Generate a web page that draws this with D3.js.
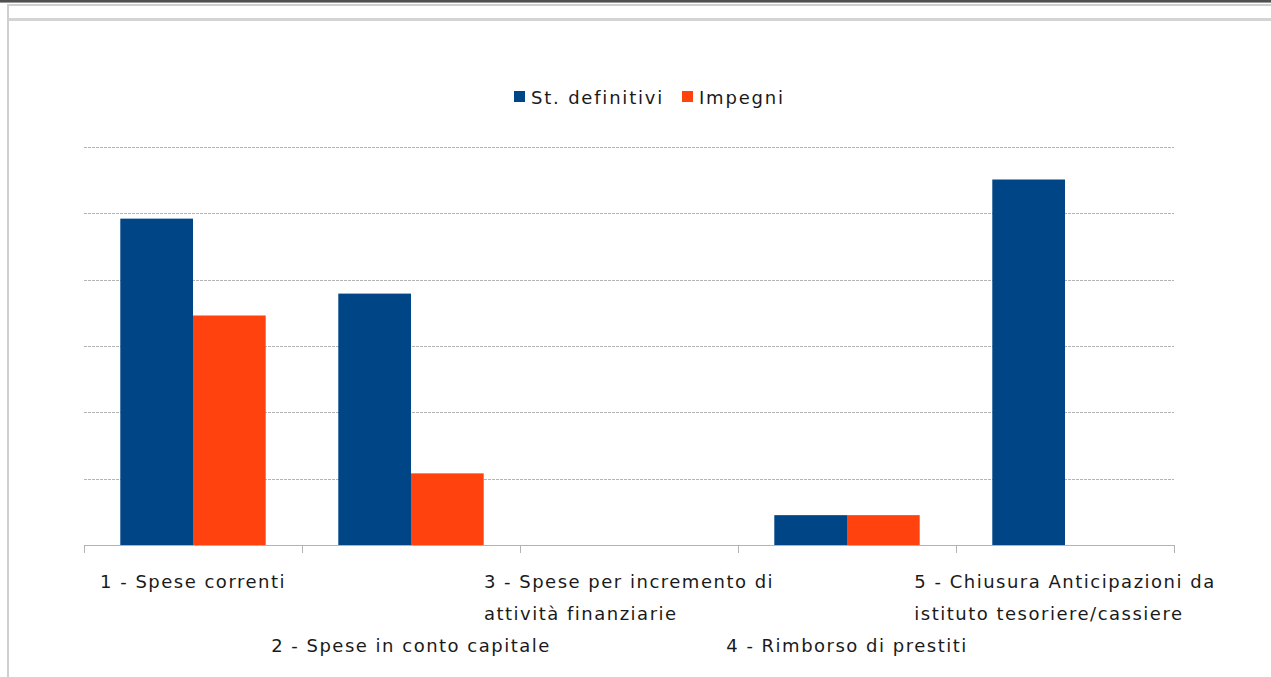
<!DOCTYPE html>
<html>
<head>
<meta charset="utf-8">
<script src="https://cdn.jsdelivr.net/npm/d3@7"></script>
<style>
	body { margin: 0; background: #fff; }
	svg { display: block; font-family: "DejaVu Sans", sans-serif; }
</style>
</head>
<body>
<div id="chart"></div>
<script>
'use strict';

// categories (label lines as shown under the axis)
const categories = [
	["1 - Spese correnti"],
	["2 - Spese in conto capitale"],
	["3 - Spese per incremento di", "attività finanziarie"],
	["4 - Rimborso di prestiti"],
	["5 - Chiusura Anticipazioni da", "istituto tesoriere/cassiere"]
];
const seriesNames = ["St. definitivi", "Impegni"];
const stDefinitivi = [4.92, 3.79, 0, 0.45, 5.51];
const impegni = [3.46, 1.08, 0, 0.45, 0];
const colors = ["#004586", "#ff420e"];

const width = 1271, height = 677;
const plot = { left: 84, right: 1174, top: 147, bottom: 545 };

const svg = d3.select("#chart").append("svg")
	.attr("width", width)
	.attr("height", height);

// window frame lines
svg.append("rect").attr("x", 0).attr("y", 0).attr("width", width).attr("height", 2).attr("fill", "#505050");
svg.append("rect").attr("x", 0).attr("y", 2).attr("width", width).attr("height", 1).attr("fill", "#9a9a9a");
svg.append("rect").attr("x", 7).attr("y", 4).attr("width", width).attr("height", 2).attr("fill", "#cfcfcf");
svg.append("rect").attr("x", 7).attr("y", 18).attr("width", width).attr("height", 3).attr("fill", "#d4d4d4");
svg.append("rect").attr("x", 7).attr("y", 4).attr("width", 2).attr("height", height).attr("fill", "#cfcfcf");

const idx = d3.range(categories.length);

const xBand = d3.scaleBand()
	.domain(idx)
	.range([plot.left, plot.right])
	.paddingInner(0.333)
	.paddingOuter(0.1665);

const xSub = d3.scaleBand()
	.domain([0, 1])
	.range([0, xBand.bandwidth()]);

const xEdge = d3.scaleLinear()
	.domain([0, categories.length])
	.range([plot.left, plot.right]);

const yScale = d3.scaleLinear()
	.domain([0, 6])
	.range([plot.bottom, plot.top]);

// gridlines
const grid = svg.append("g")
	.attr("transform", `translate(${plot.left},0)`)
	.call(d3.axisLeft(yScale)
		.tickValues([1, 2, 3, 4, 5, 6])
		.tickSize(-(plot.right - plot.left))
		.tickFormat(""));
grid.select(".domain").remove();
grid.selectAll(".tick line")
	.attr("stroke", "#b3b3b3")
	.attr("stroke-dasharray", "3,1")
	.attr("shape-rendering", "crispEdges");

// bars
const series = [stDefinitivi, impegni];
series.forEach((vals, s) => {
	svg.append("g").selectAll("rect")
		.data(vals)
		.join("rect")
			.attr("x", (d, i) => xBand(i) + xSub(s))
			.attr("y", d => yScale(d))
			.attr("width", xSub.bandwidth())
			.attr("height", d => yScale(0) - yScale(d))
			.attr("fill", colors[s]);
});

// x axis with ticks at category boundaries
const xAxis = svg.append("g")
	.attr("transform", `translate(0,${plot.bottom})`)
	.call(d3.axisBottom(xEdge)
		.tickValues(d3.range(categories.length + 1))
		.tickSize(8)
		.tickSizeOuter(0)
		.tickFormat(""));
xAxis.selectAll("line, path")
	.attr("stroke", "#b3b3b3")
	.attr("shape-rendering", "crispEdges");

// category labels, staggered on two rows
const labelRowY = [588, 652];
const lineGap = 32;
const labels = svg.append("g")
	.attr("font-size", 18)
	.attr("letter-spacing", 1.5)
	.attr("fill", "#1a1a1a");
categories.forEach((lines, i) => {
	const cx = xEdge(i + 0.5);
	const t = labels.append("text")
		.attr("text-anchor", "start");
	lines.forEach((ln, k) => {
		t.append("tspan")
			.attr("x", 0)
			.attr("y", labelRowY[i % 2] + k * lineGap)
			.text(ln);
	});
	// center the left-aligned block on the category
	const w = t.node().getBBox().width;
	t.selectAll("tspan").attr("x", cx - w / 2);
});

// legend
const legend = svg.append("g")
	.attr("font-size", 18)
	.attr("letter-spacing", 1.8)
	.attr("fill", "#1a1a1a");
const legendX = [514, 682];
seriesNames.forEach((name, s) => {
	legend.append("rect")
		.attr("x", legendX[s])
		.attr("y", 91)
		.attr("width", 11)
		.attr("height", 11)
		.attr("fill", colors[s]);
	legend.append("text")
		.attr("x", legendX[s] + 17)
		.attr("y", 104)
		.text(name);
});
</script>
</body>
</html>
